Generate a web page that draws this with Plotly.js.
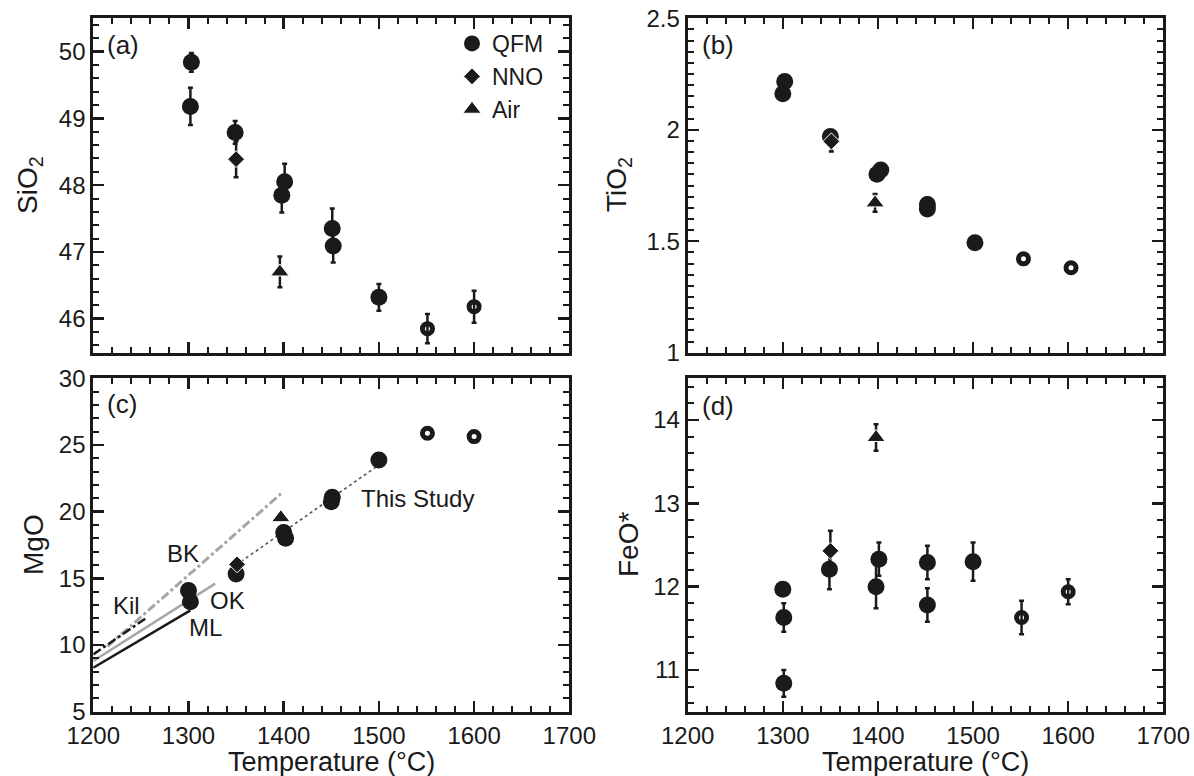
<!DOCTYPE html>
<html>
<head>
<meta charset="utf-8">
<script src="https://cdn.plot.ly/plotly-3.0.1.min.js"></script>
<style>html,body{margin:0;padding:0;background:#fff;}#chart{width:1194px;height:776px;}</style>
</head>
<body>
<div id="chart"></div>
<script>
// ---------- data ----------
// (a) SiO2
const sio2_qfm_T   = [1303, 1302, 1349, 1401, 1398, 1451, 1452, 1500];
const sio2_qfm     = [49.84, 49.18, 48.79, 48.05, 47.85, 47.35, 47.09, 46.32];
const sio2_qfm_err = [0.14, 0.28, 0.17, 0.27, 0.26, 0.30, 0.25, 0.20];
const sio2_nno_T   = [1350];
const sio2_nno     = [48.39];
const sio2_nno_err = [0.27];
const sio2_air_T   = [1396];
const sio2_air     = [46.70];
const sio2_air_err = [0.23];
const sio2_open_T   = [1551, 1600];
const sio2_open     = [45.85, 46.18];
const sio2_open_err = [0.22, 0.24];

// (b) TiO2
const tio2_qfm_T   = [1302, 1300, 1350, 1403, 1399, 1452, 1452, 1502];
const tio2_qfm     = [2.216, 2.162, 1.970, 1.820, 1.800, 1.665, 1.645, 1.493];
const tio2_qfm_err = [0.02, 0.02, 0.02, 0.03, 0.02, 0.03, 0.02, 0.02];
const tio2_nno_T   = [1351];
const tio2_nno     = [1.948];
const tio2_nno_err = [0.045];
const tio2_air_T   = [1397];
const tio2_air     = [1.672];
const tio2_air_err = [0.04];
const tio2_open_T   = [1553, 1603];
const tio2_open     = [1.421, 1.381];

// (c) MgO
const mgo_qfm_T = [1300, 1302, 1350, 1400, 1402, 1451, 1450, 1500];
const mgo_qfm   = [14.08, 13.25, 15.33, 18.43, 18.00, 21.08, 20.75, 23.88];
const mgo_nno_T = [1351];
const mgo_nno   = [16.05];
const mgo_air_T = [1397];
const mgo_air   = [19.55];
const mgo_open_T = [1551, 1600];
const mgo_open   = [25.88, 25.63];
// reference trends in (c)
const ml_T  = [1200, 1302];  const ml_mgo  = [8.3, 12.6];
const ok_T  = [1200, 1328];  const ok_mgo  = [8.8, 14.6];
const kil_T = [1200, 1255];  const kil_mgo = [9.3, 12.0];
const bk_T  = [1215, 1398];  const bk_mgo  = [9.9, 21.4];
const study_T = [1350, 1500]; const study_mgo = [16.0, 23.5];

// (d) FeO*
const feo_qfm_T   = [1300, 1301, 1301, 1349, 1401, 1398, 1452, 1452, 1500];
const feo_qfm     = [11.97, 11.63, 10.84, 12.21, 12.33, 12.00, 12.29, 11.78, 12.30];
const feo_qfm_err = [0.06, 0.17, 0.16, 0.24, 0.20, 0.26, 0.20, 0.20, 0.23];
const feo_nno_T   = [1350];
const feo_nno     = [12.43];
const feo_nno_err = [0.24];
const feo_air_T   = [1398];
const feo_air     = [13.79];
const feo_air_err = [0.16];
const feo_open_T   = [1551, 1600];
const feo_open     = [11.63, 11.94];
const feo_open_err = [0.20, 0.15];

const tempTicks = [1200, 1300, 1400, 1500, 1600, 1700];
const seriesNames = ['QFM', 'NNO', 'Air'];

// ---------- styling ----------
const FONT = 'Liberation Sans, Arial, Helvetica, sans-serif';
const INK = '#1a1a1a';
const W = 1194, H = 776;
const px = v => v / W;
const py = v => 1 - v / H;

function err(arr) {
  return arr ? {type: 'data', array: arr, visible: true, color: INK, thickness: 2.5, width: 2.5} : {visible: false};
}
function pts(xa, ya, T, v, e, kind, showLeg) {
  let marker;
  if (kind === 'QFM') marker = {symbol: 'circle', size: 17, color: INK, line: {width: 0}};
  else if (kind === 'NNO') marker = {symbol: 'diamond', size: 13, color: INK, line: {color: '#ffffff', width: 1}};
  else if (kind === 'Air') marker = {symbol: 'triangle-up', size: 16, color: INK, line: {color: '#ffffff', width: 1}};
  else marker = {symbol: 'circle-open', size: 10, color: INK, line: {color: INK, width: 5}};
  return {
    type: 'scatter', mode: 'markers', x: T, y: v, xaxis: xa, yaxis: ya,
    name: kind === 'open' ? 'QFM (open)' : kind,
    legendgroup: kind, showlegend: !!showLeg,
    marker: marker, error_y: err(e), cliponaxis: false, hoverinfo: 'x+y'
  };
}
function line(T, v, color, dash, width, name) {
  return {type: 'scatter', mode: 'lines', x: T, y: v, xaxis: 'x3', yaxis: 'y3',
          name: name, showlegend: false, line: {color: color, dash: dash, width: width}, hoverinfo: 'skip'};
}

const traces = [
  // (a)
  pts('x', 'y', sio2_qfm_T, sio2_qfm, sio2_qfm_err, 'QFM', true),
  pts('x', 'y', sio2_nno_T, sio2_nno, sio2_nno_err, 'NNO', true),
  pts('x', 'y', sio2_air_T, sio2_air, sio2_air_err, 'Air', true),
  pts('x', 'y', sio2_open_T, sio2_open, sio2_open_err, 'open'),
  // (b)
  pts('x2', 'y2', tio2_qfm_T, tio2_qfm, tio2_qfm_err, 'QFM'),
  pts('x2', 'y2', tio2_nno_T, tio2_nno, tio2_nno_err, 'NNO'),
  pts('x2', 'y2', tio2_air_T, tio2_air, tio2_air_err, 'Air'),
  pts('x2', 'y2', tio2_open_T, tio2_open, null, 'open'),
  // (c) trend lines
  line(ml_T, ml_mgo, INK, 'solid', 2.5, 'ML'),
  line(ok_T, ok_mgo, '#a6a6a6', 'solid', 2.5, 'OK'),
  line(bk_T, bk_mgo, '#a6a6a6', 'dashdot', 3, 'BK'),
  line(kil_T, kil_mgo, INK, 'dashdot', 2.5, 'Kil'),
  line(study_T, study_mgo, '#555555', 'dot', 1.6, 'This Study'),
  pts('x3', 'y3', mgo_qfm_T, mgo_qfm, null, 'QFM'),
  pts('x3', 'y3', mgo_nno_T, mgo_nno, null, 'NNO'),
  pts('x3', 'y3', mgo_air_T, mgo_air, null, 'Air'),
  pts('x3', 'y3', mgo_open_T, mgo_open, null, 'open'),
  // (d)
  pts('x4', 'y4', feo_qfm_T, feo_qfm, feo_qfm_err, 'QFM'),
  pts('x4', 'y4', feo_nno_T, feo_nno, feo_nno_err, 'NNO'),
  pts('x4', 'y4', feo_air_T, feo_air, feo_air_err, 'Air'),
  pts('x4', 'y4', feo_open_T, feo_open, feo_open_err, 'open')
];

const xDomL = [px(93.3), px(569.3)];
const xDomR = [px(687.7), px(1163.3)];
const yDomT = [py(352.7), py(18.3)];
const yDomB = [py(711.7), py(378.3)];

function axBase(extra) {
  return Object.assign({
    showline: true, linewidth: 3, linecolor: INK, mirror: 'ticks',
    ticks: 'inside', ticklen: 11, tickwidth: 2.5, tickcolor: INK,
    showgrid: false, zeroline: false, automargin: false, fixedrange: true,
    tickfont: {family: FONT, size: 24, color: INK}
  }, extra);
}
function xAx(domain, anchor, labels) {
  return axBase({domain: domain, anchor: anchor, range: [1200, 1700],
    tickmode: 'array', tickvals: tempTicks, ticktext: tempTicks.map(String), showticklabels: labels,
    minor: {dtick: 20, tick0: 1200, ticks: 'inside', ticklen: 6, tickwidth: 2, tickcolor: INK, showgrid: false}});
}
function yAx(domain, anchor, range, dtick, tick0, minorD) {
  return axBase({domain: domain, anchor: anchor, range: range, dtick: dtick, tick0: tick0,
    minor: {dtick: minorD, tick0: tick0, ticks: 'inside', ticklen: 6, tickwidth: 2, tickcolor: INK, showgrid: false}});
}

function ann(text, x, y, opts) {
  return Object.assign({text: text, x: px(x), y: py(y), xref: 'paper', yref: 'paper', showarrow: false,
    xanchor: 'left', yanchor: 'middle', font: {family: FONT, size: 24, color: INK}}, opts || {});
}
const TF = {family: FONT, size: 28, color: INK};
const XF = {family: FONT, size: 27, color: INK};

const annotations = [
  ann('(a)', 105, 45, {font: {family: FONT, size: 26, color: INK}}),
  ann('(b)', 700, 45, {font: {family: FONT, size: 26, color: INK}}),
  ann('(c)', 105, 404, {font: {family: FONT, size: 26, color: INK}}),
  ann('(d)', 700, 406, {font: {family: FONT, size: 26, color: INK}}),
  ann('SiO<sub>2</sub>', 29, 185, {xanchor: 'center', textangle: -90, font: TF}),
  ann('TiO<sub>2</sub>', 618, 185, {xanchor: 'center', textangle: -90, font: TF}),
  ann('MgO', 33, 545, {xanchor: 'center', textangle: -90, font: TF}),
  ann('FeO*', 628, 545, {xanchor: 'center', textangle: -90, font: TF}),
  ann('Temperature (°C)', 331, 762, {xanchor: 'center', font: XF}),
  ann('Temperature (°C)', 925, 762, {xanchor: 'center', font: XF}),
  ann('Kil', 126, 605, {xanchor: 'center'}),
  ann('BK', 183, 553, {xanchor: 'center'}),
  ann('OK', 227, 600, {xanchor: 'center'}),
  ann('ML', 205, 627, {xanchor: 'center'}),
  ann('This Study', 359, 498)
];

const layout = {
  width: W, height: H,
  margin: {l: 0, r: 0, t: 0, b: 0, pad: 0},
  paper_bgcolor: '#ffffff', plot_bgcolor: '#ffffff',
  font: {family: FONT, size: 24, color: INK},
  showlegend: true,
  legend: {x: px(452), xanchor: 'left', y: py(22), yanchor: 'top', bgcolor: 'rgba(0,0,0,0)',
           borderwidth: 0, font: {family: FONT, size: 23, color: INK}, tracegroupgap: 0, itemclick: false},
  xaxis: xAx(xDomL, 'y', false),
  yaxis: yAx(yDomT, 'x', [45.49, 50.5], 1, 46, 0.2),
  xaxis2: xAx(xDomR, 'y2', false),
  yaxis2: yAx(yDomT, 'x2', [1, 2.5], 0.5, 1, 0.05),
  xaxis3: xAx(xDomL, 'y3', true),
  yaxis3: yAx(yDomB, 'x3', [5, 30], 5, 5, 1),
  xaxis4: xAx(xDomR, 'y4', true),
  yaxis4: yAx(yDomB, 'x4', [10.5, 14.5], 1, 11, 0.2),
  annotations: annotations
};

Plotly.newPlot('chart', traces, layout, {staticPlot: true, displayModeBar: false});
</script>
</body>
</html>
